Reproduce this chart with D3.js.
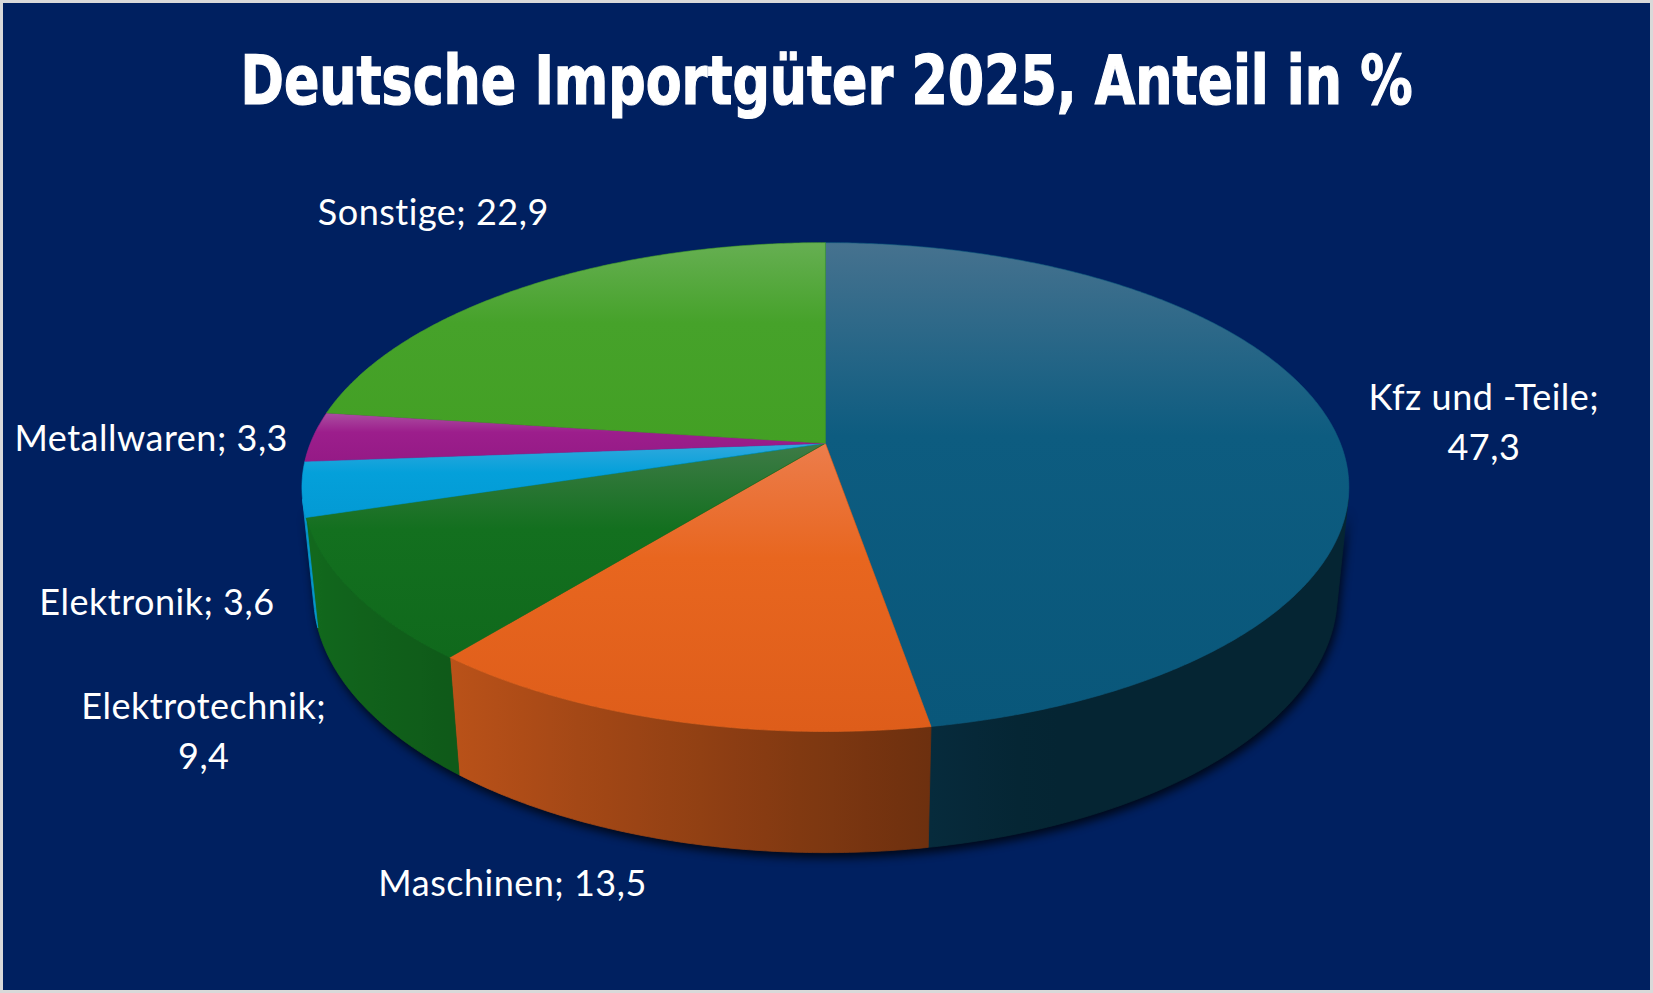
<!DOCTYPE html>
<html><head><meta charset="utf-8">
<script src="https://cdn.jsdelivr.net/npm/d3@7"></script>
<style>html,body{margin:0;padding:0;background:#d9d9d9;} svg{display:block}</style>
</head><body><svg id="c" width="1653" height="993"></svg>
<script>
// ---- data ----
const title = "Deutsche Importgüter 2025, Anteil in %";
const categories = ["Kfz und -Teile", "Maschinen", "Elektrotechnik", "Elektronik", "Metallwaren", "Sonstige"];
const values = [47.3, 13.5, 9.4, 3.6, 3.3, 22.9];

// ---- styles ----
const topLight = ["#46728f", "#ec7d4c", "#3e7b47", "#30a9dd", "#ab4ea1", "#66af52"];
const topBase  = ["#0d5c80", "#e8661f", "#13701f", "#04a0da", "#9c1e8c", "#46a22a"];
const topEnd   = ["#09577a", "#de5d1a", "#10691c", "#039ad4", "#951a86", "#43a024"];
// label layout: line break flag and nudge from slice mid-point on rim
const labelBreak = [true, false, true, false, false, false];
const labelNudge = [[153, -14], [-156, 176], [-148, 128], [-145, 126], [-162, 14], [-93, -61]];

const W = 1653, H = 993;
const svg = d3.select("#c");
const defs = svg.append("defs");

svg.append("rect").attr("x", 3).attr("y", 3).attr("width", W - 6).attr("height", H - 6).attr("fill", "#002060");

// ---- 3D projection ----
const cx = 825.4, cy = 443.3, fR = 515;
const phi = 27.35 * Math.PI / 180, sinP = Math.sin(phi), cosP = Math.cos(phi);
const Dd = 4.96, thick = 0.237;
function proj(t, yw) {
  const X = Math.sin(t), Z = -Math.cos(t);
  const sy = yw * cosP - Z * sinP;
  const depth = yw * sinP + Z * cosP;
  const sc = Dd / (Dd - depth);
  return [cx + fR * X * sc, cy - fR * sy * sc];
}
const visLo = Math.acos(-1 / (Dd * cosP));
const visHi = 2 * Math.PI - visLo;
function arcPts(t1, t2, yw) {
  const n = Math.max(2, Math.ceil(Math.abs(t2 - t1) / (Math.PI / 360)));
  return d3.range(n + 1).map(i => proj(t1 + (t2 - t1) * i / n, yw));
}
function shade(t) {
  const deg = t * 180 / Math.PI;
  return Math.max(0.40, 0.54 + 0.42 * Math.cos((deg - 270) * Math.PI / 180));
}
function scaleColor(c, k) {
  const r = d3.rgb(c);
  return d3.rgb(r.r * k, r.g * k, r.b * k).formatHex();
}
const line = d3.line();

const arcs = d3.pie().sort(null).startAngle(0).endAngle(2 * Math.PI)(values);

// ---- shadow ----
const f = defs.append("filter").attr("id", "sh").attr("x", "-20%").attr("y", "-20%").attr("width", "140%").attr("height", "140%");
f.append("feGaussianBlur").attr("in", "SourceGraphic").attr("stdDeviation", 5);
const shG = svg.append("g").attr("filter", "url(#sh)").attr("opacity", 0.75).attr("transform", "translate(2,5)");
shG.append("path").attr("d", line(arcPts(0, 2 * Math.PI, -thick)) + "Z").attr("fill", "#000");
shG.append("path").attr("d", line(arcPts(visLo, visHi, 0).concat(arcPts(visHi, visLo, -thick))) + "Z").attr("fill", "#000");

// ---- walls ----
const wallG = svg.append("g");
arcs.forEach((a, i) => {
  const t1 = Math.max(a.startAngle, visLo), t2 = Math.min(a.endAngle, visHi);
  if (t2 <= t1) return;
  const x1 = proj(t1, 0)[0], x2 = proj(t2, 0)[0];
  const g = defs.append("linearGradient").attr("id", "w" + i).attr("gradientUnits", "userSpaceOnUse")
    .attr("x1", x1).attr("y1", 0).attr("x2", x2).attr("y2", 0);
  const ns = 16;
  d3.range(ns + 1).forEach(k => {
    const t = t1 + (t2 - t1) * k / ns;
    const off = (proj(t, 0)[0] - x1) / (x2 - x1);
    g.append("stop").attr("offset", Math.max(0, Math.min(1, off))).attr("stop-color", scaleColor(topBase[i], shade(t)));
  });
  const pts = arcPts(t1, t2, 0).concat(arcPts(t2, t1, -thick));
  wallG.append("path").attr("d", line(pts) + "Z").attr("fill", `url(#w${i})`)
    .attr("stroke", `url(#w${i})`).attr("stroke-width", 0.8);
});

// ---- tops ----
const topG = svg.append("g");
arcs.forEach((a, i) => {
  const g = defs.append("linearGradient").attr("id", "t" + i).attr("x1", 0).attr("y1", 0).attr("x2", 0).attr("y2", 1);
  g.append("stop").attr("offset", 0).attr("stop-color", topLight[i]);
  g.append("stop").attr("offset", 0.4).attr("stop-color", topBase[i]);
  g.append("stop").attr("offset", 1).attr("stop-color", topEnd[i]);
  const pts = [[cx, cy]].concat(arcPts(a.startAngle, a.endAngle, 0));
  topG.append("path").attr("d", line(pts) + "Z").attr("fill", `url(#t${i})`)
    .attr("stroke", topBase[i]).attr("stroke-width", 0.6).attr("stroke-linejoin", "round");
});

// ---- title ----
svg.append("text").attr("x", W / 2).attr("y", 104).attr("text-anchor", "middle")
  .attr("font-family", "'Liberation Sans Narrow','DejaVu Sans Condensed','Roboto Condensed',sans-serif")
  .attr("font-weight", "bold").attr("font-size", 68).attr("fill", "#fff")
  .attr("stroke", "#fff").attr("stroke-width", 1.2)
  .attr("textLength", 1172).attr("lengthAdjust", "spacingAndGlyphs")
  .text(title);

// ---- labels ----
const fmt = v => String(v).replace(".", ",");
const labG = svg.append("g").attr("font-family", "Lato, 'Noto Sans', sans-serif").attr("font-size", 36)
  .attr("letter-spacing", 0.5).attr("fill", "#fff");
arcs.forEach((a, i) => {
  const mid = (a.startAngle + a.endAngle) / 2;
  const p = proj(mid, 0);
  const x = p[0] + labelNudge[i][0], y = p[1] + labelNudge[i][1];
  const lines = labelBreak[i] ? [categories[i] + ";", fmt(values[i])] : [categories[i] + "; " + fmt(values[i])];
  const t = labG.append("text").attr("text-anchor", "middle").attr("x", x).attr("y", y);
  lines.forEach((s, k) => t.append("tspan").attr("x", x).attr("dy", k === 0 ? 0 : 50).text(s));
});
</script></body></html>
